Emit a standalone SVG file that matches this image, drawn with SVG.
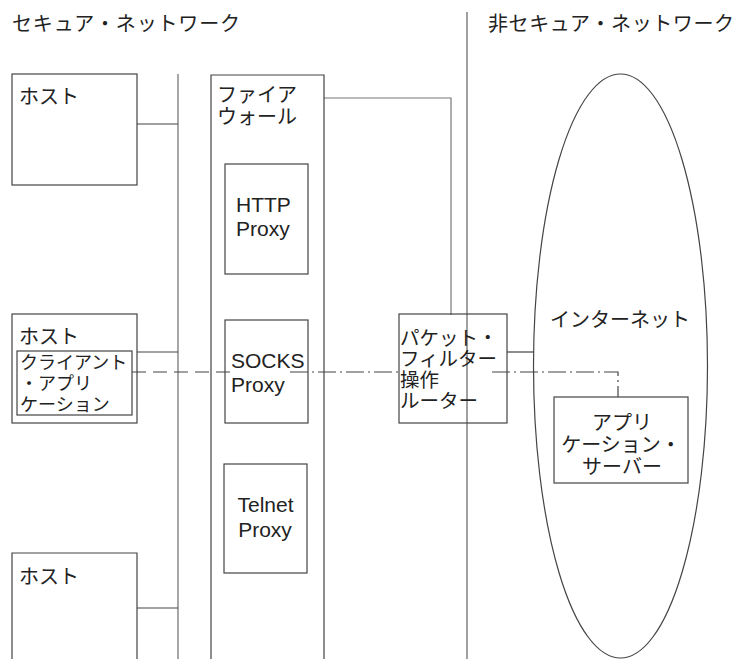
<svg xmlns="http://www.w3.org/2000/svg" width="742" height="659" viewBox="0 0 742 659">
<style>
.box{fill:none;stroke:#444;stroke-width:1.2}
.ln{fill:none;stroke:#444;stroke-width:1.2}
.div{fill:none;stroke:#888;stroke-width:1.6}
.dash{fill:none;stroke:#444;stroke-width:1.2;stroke-dasharray:14 7}
.dd{fill:none;stroke:#444;stroke-width:1.2;stroke-dasharray:18 4 2 4}
.jp{font-family:"Noto Sans CJK JP","Noto Sans CJK SC",sans-serif;font-size:20px;fill:#222}
.jpr{font-family:"Noto Sans CJK JP","Noto Sans CJK SC",sans-serif;font-size:19.5px;fill:#222}
.jps{font-family:"Noto Sans CJK JP","Noto Sans CJK SC",sans-serif;font-size:18px;fill:#222}
.en{font-family:"Liberation Sans",Arial,sans-serif;font-size:21px;fill:#222}
</style>
<g id="titles">
<text class="jp" x="12" y="31" textLength="228">セキュア・ネットワーク</text>
<text class="jp" x="488" y="31" textLength="246">非セキュア・ネットワーク</text>
</g>
<line id="divider" class="div" x1="467" y1="12" x2="467" y2="659"/>
<line id="bus" class="div" x1="178" y1="74" x2="178" y2="659" style="stroke:#777;stroke-width:1.3"/>
<g id="connectors">
<line class="ln" x1="137" y1="124" x2="178" y2="124"/>
<line class="ln" x1="137" y1="352" x2="178" y2="352"/>
<line class="ln" x1="137" y1="608" x2="178" y2="608"/>
<polyline class="ln" points="324,98 451,98 451,315" style="stroke:#777"/>
<line class="ln" x1="507" y1="352" x2="534" y2="352"/>
<line class="dash" x1="132" y1="372" x2="232" y2="372"/>
<line class="dd" x1="290" y1="372" x2="402" y2="372"/>
<polyline class="dd" points="492,372 618,372 618,397"/>
</g>
<g id="host1">
<rect class="box" x="12" y="74" width="125" height="111"/>
<text class="jp" x="19" y="104">ホスト</text>
</g>
<g id="host2">
<rect class="box" x="12" y="314" width="125" height="109"/>
<text class="jp" x="19" y="344">ホスト</text>
<g id="client">
<rect class="box" x="17" y="351" width="115" height="64"/>
<text class="jps" x="20" y="369">クライアント</text>
<text class="jps" x="20" y="390">・アプリ</text>
<text class="jps" x="20" y="411">ケーション</text>
</g>
</g>
<g id="host3">
<path class="box" d="M12,659 V553 H137 V659"/>
<text class="jp" x="19" y="584">ホスト</text>
</g>
<g id="firewall">
<path class="box" d="M211,659 V75 H324 V659"/>
<text class="jp" x="217" y="102">ファイア</text>
<text class="jp" x="217" y="124">ウォール</text>
</g>
<g id="http">
<rect class="box" x="225" y="164" width="83" height="110"/>
<text class="en" x="236" y="212">HTTP</text>
<text class="en" x="236" y="236">Proxy</text>
</g>
<g id="socks">
<rect class="box" x="225" y="320" width="83" height="103"/>
<text class="en" x="231" y="368">SOCKS</text>
<text class="en" x="231" y="392">Proxy</text>
</g>
<g id="telnet">
<rect class="box" x="224" y="464" width="83" height="109"/>
<text class="en" x="265.5" y="512" text-anchor="middle">Telnet</text>
<text class="en" x="265" y="537" text-anchor="middle">Proxy</text>
</g>
<g id="router">
<rect class="box" x="399" y="314" width="108" height="109"/>
<text class="jpr" x="400" y="345">パケット・</text>
<text class="jpr" x="400" y="366">フィルター</text>
<text class="jpr" x="400" y="387">操作</text>
<text class="jpr" x="400" y="408">ルーター</text>
</g>
<g id="internet">
<ellipse class="box" cx="620.5" cy="366" rx="87" ry="292"/>
<text class="jp" x="550" y="327">インターネット</text>
</g>
<g id="appserver">
<rect class="box" x="554" y="397" width="134" height="86"/>
<text class="jp" x="622" y="430" text-anchor="middle">アプリ</text>
<text class="jp" x="621" y="452" text-anchor="middle">ケーション・</text>
<text class="jp" x="622" y="474" text-anchor="middle">サーバー</text>
</g>
</svg>
